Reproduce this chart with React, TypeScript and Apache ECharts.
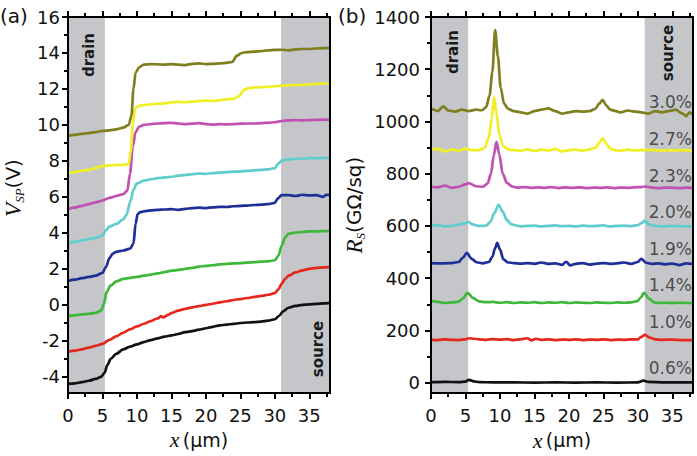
import React, { useEffect, useRef } from 'react';
import * as echarts from 'echarts';

// ---------- axes / ticks ----------
const xMin = 0;
const xMax = 38;
const vspMin = -4.9;
const vspMax = 16;
const rsMin = -40;
const rsMax = 1400;
const xMajor = [0, 5, 10, 15, 20, 25, 30, 35];
const xMinor = [2.5, 7.5, 12.5, 17.5, 22.5, 27.5, 32.5, 37.5];
const vspMajor = [-4, -2, 0, 2, 4, 6, 8, 10, 12, 14, 16];
const vspMinor = [-3, -1, 1, 3, 5, 7, 9, 11, 13, 15];
const rsMajor = [0, 200, 400, 600, 800, 1000, 1200, 1400];
const rsMinor = [100, 300, 500, 700, 900, 1100, 1300];

// contact regions (x in µm)
const drainA = [0, 5.35];
const sourceA = [30.9, 38];
const drainB = [0, 5.4];
const sourceB = [31.0, 38];

// ---------- series ----------
const strainNames = ['0.6%', '1.0%', '1.4%', '1.9%', '2.0%', '2.3%', '2.7%', '3.0%'];
const strainColors = ['#111111', '#e6271f', '#3db83a', '#1f2f98', '#5fcdcd', '#c050b1', '#f1ee25', '#7f7f1f'];
const pctLabelX = 38;
const pctLabelY = [57, 233, 375, 513, 654, 792, 933, 1074];

// (a) surface potential V_SP (V)
const vsp06 = [[0,-4.39],[1,-4.36],[2,-4.3],[3,-4.22],[4,-4.12],[4.8,-4.0],[5.3,-3.78],[5.7,-3.35],[6.2,-3.0],[7,-2.72],[8,-2.48],[9,-2.32],[10,-2.2],[11,-2.07],[12,-1.96],[13,-1.86],[14,-1.77],[15,-1.7],[16,-1.62],[17,-1.52],[18,-1.46],[19,-1.38],[20,-1.3],[21,-1.22],[22,-1.14],[23,-1.1],[24,-1.06],[25,-1.01],[26,-0.98],[27,-0.96],[28,-0.93],[29,-0.88],[30,-0.8],[30.6,-0.62],[31.2,-0.36],[32,-0.16],[33,-0.06],[34,0.0],[35,0.03],[36,0.05],[37,0.08],[38,0.11]];
const vsp10 = [[0,-2.61],[1,-2.55],[2,-2.47],[3,-2.38],[4,-2.28],[5,-2.17],[6,-1.95],[7,-1.75],[8,-1.55],[9,-1.36],[10,-1.2],[11,-1.05],[12,-0.9],[13,-0.75],[13.5,-0.62],[13.8,-0.7],[14.5,-0.56],[15,-0.46],[16,-0.32],[17,-0.22],[18,-0.14],[19,-0.07],[20,0.0],[21,0.06],[22,0.14],[23,0.2],[24,0.27],[25,0.32],[26,0.38],[27,0.44],[28,0.5],[29,0.56],[30,0.65],[30.5,0.85],[31,1.18],[31.5,1.45],[32,1.62],[33,1.8],[34,1.92],[35,2.0],[36,2.05],[37,2.08],[38,2.11]];
const vsp14 = [[0,-0.61],[1,-0.58],[2,-0.53],[3,-0.5],[4,-0.45],[4.8,-0.32],[5.2,0.05],[5.6,0.72],[6.2,1.08],[7,1.3],[8,1.44],[9,1.5],[10,1.55],[11,1.62],[12,1.68],[13,1.75],[14,1.82],[15,1.9],[16,1.94],[17,2.0],[18,2.05],[19,2.12],[20,2.17],[21,2.2],[22,2.25],[23,2.28],[24,2.3],[25,2.32],[26,2.35],[27,2.37],[28,2.4],[29,2.42],[30,2.48],[30.5,2.72],[31,3.3],[31.5,3.75],[32,3.95],[33,4.02],[34,4.05],[35,4.08],[36,4.08],[37,4.1],[38,4.11]];
const vsp19 = [[0,1.33],[1,1.4],[2,1.48],[3,1.55],[4,1.62],[5,1.78],[5.5,2.1],[6,2.6],[6.5,2.85],[7,2.95],[8,3.02],[9,3.12],[9.5,3.4],[9.8,4.5],[10.1,5.05],[10.5,5.15],[11,5.2],[12,5.25],[13,5.28],[14,5.3],[15,5.32],[16,5.28],[17,5.33],[18,5.38],[19,5.4],[20,5.38],[21,5.42],[22,5.45],[23,5.44],[24,5.48],[25,5.5],[26,5.52],[27,5.55],[28,5.57],[29,5.6],[30,5.67],[30.4,5.9],[31,6.1],[32,6.1],[33,6.05],[34,6.12],[35,6.08],[36,6.1],[37,6.0],[37.5,6.12],[38,6.1]];
const vsp20 = [[0,3.44],[1,3.5],[2,3.58],[3,3.65],[4,3.72],[5,3.85],[5.5,4.15],[6,4.35],[7,4.5],[8,4.75],[8.5,5.0],[9,5.7],[9.5,6.4],[10,6.75],[11,6.9],[12,6.98],[13,7.04],[14,7.08],[15,7.12],[16,7.18],[17,7.22],[18,7.26],[19,7.3],[20,7.28],[21,7.32],[22,7.35],[23,7.38],[24,7.4],[25,7.42],[26,7.45],[27,7.48],[28,7.5],[29,7.53],[30,7.6],[30.5,7.85],[31,8.02],[32,8.08],[33,8.12],[34,8.12],[35,8.15],[36,8.15],[37,8.17],[38,8.2]];
const vsp23 = [[0,5.33],[1,5.4],[2,5.5],[3,5.6],[4,5.7],[5,5.8],[6,5.95],[7,6.05],[8,6.15],[8.6,6.35],[9,7.3],[9.4,8.8],[9.8,9.6],[10.3,9.9],[11,10.0],[12,10.05],[13,10.08],[14,10.1],[15,10.12],[16,10.08],[17,10.04],[18,10.07],[19,10.1],[20,10.05],[21,10.02],[22,10.05],[23,10.03],[24,10.05],[25,10.07],[26,10.08],[27,10.08],[28,10.1],[29,10.12],[30,10.15],[31,10.22],[32,10.25],[33,10.27],[34,10.25],[35,10.27],[36,10.28],[37,10.3],[38,10.28]];
const vsp27 = [[0,7.33],[1,7.38],[2,7.45],[3,7.5],[4,7.6],[5,7.72],[6,7.75],[7,7.77],[8,7.78],[8.8,7.82],[9.1,8.5],[9.4,10.0],[9.7,10.9],[10.2,11.05],[11,11.1],[12,11.15],[13,11.18],[14,11.2],[15,11.25],[16,11.28],[17,11.26],[18,11.3],[19,11.32],[20,11.35],[21,11.33],[22,11.38],[23,11.42],[24,11.45],[24.8,11.6],[25.5,11.95],[26.2,12.05],[27,12.08],[28,12.1],[29,12.12],[30,12.15],[31,12.18],[32,12.2],[33,12.22],[34,12.22],[35,12.25],[36,12.28],[37,12.3],[38,12.33]];
const vsp30 = [[0,9.39],[1,9.45],[2,9.5],[3,9.55],[4,9.6],[5,9.67],[6,9.7],[7,9.75],[8,9.85],[8.8,10.0],[9.2,10.5],[9.5,12.0],[9.8,12.9],[10.3,13.2],[11,13.35],[12,13.38],[13,13.37],[14,13.35],[15,13.38],[16,13.35],[17,13.33],[18,13.4],[19,13.42],[20,13.38],[21,13.4],[22,13.42],[23,13.45],[23.8,13.5],[24.5,13.85],[25.2,14.0],[26,14.05],[27,14.08],[28,14.1],[29,14.15],[30,14.17],[31,14.18],[32,14.15],[33,14.2],[34,14.22],[35,14.22],[36,14.25],[37,14.27],[38,14.28]];

// (b) sheet resistance R_S (GΩ/sq)
const rs06 = [[0,2],[2,3],[4,2],[5,4],[5.5,11],[6.2,5],[7,2],[9,1],[12,1],[15,0],[18,1],[21,0],[24,1],[27,0],[30,1],[30.8,8],[31.5,3],[34,1],[38,1]];
const rs10 = [[0,165],[1,163],[2,166],[3,164],[4,163],[5,166],[5.5,170],[6.2,168],[7,166],[8,164],[9,167],[10,165],[11,167],[12,163],[13,166],[14,170],[14.6,162],[15.2,168],[16,164],[17,166],[18,163],[19,165],[20,164],[21,166],[22,163],[23,165],[24,164],[25,166],[26,163],[27,165],[28,164],[29,166],[30,166],[30.5,175],[31,183],[31.8,172],[32.5,166],[33.5,164],[35,165],[36.5,163],[38,163]];
const rs14 = [[0,314],[1,309],[2,305],[3,307],[4,310],[4.6,322],[5.3,344],[6.1,324],[7,311],[8,308],[9,309],[10,306],[11,308],[12,305],[13,307],[14,306],[15,308],[16,305],[17,307],[18,306],[19,308],[20,305],[21,307],[22,306],[23,305],[24,307],[25,306],[26,305],[27,307],[28,306],[29,307],[29.9,312],[30.4,325],[30.9,344],[31.6,322],[32.4,307],[33,305],[34,306],[35,305],[36,306],[37,305],[38,305]];
const rs19 = [[0,458],[1,457],[2,457],[3,458],[4,462],[4.6,478],[5.2,497],[5.9,474],[6.6,461],[7.5,457],[8.4,462],[8.9,482],[9.3,515],[9.6,535],[10.0,510],[10.5,472],[11.2,460],[12,458],[13,456],[14,458],[15,455],[16,460],[17,455],[18,457],[19,451],[19.6,463],[20.2,449],[21,455],[22,458],[23,452],[24,456],[25,458],[26,455],[27,457],[28,460],[29,455],[30,462],[30.5,474],[31.2,459],[32,455],[33,457],[34,453],[35,456],[36,450],[37,457],[38,455]];
const rs20 = [[0,600],[1,603],[2,598],[3,600],[4,605],[5,611],[5.4,616],[6,606],[7,600],[8,601],[8.6,615],[9.2,650],[9.8,681],[10.4,655],[11,622],[11.7,606],[12.5,601],[13,598],[14,600],[15,601],[16,598],[17,600],[18,602],[19,599],[20,600],[21,598],[22,601],[23,599],[24,600],[25,602],[26,598],[27,600],[28,601],[29,599],[30,603],[30.6,612],[31,620],[31.6,606],[32.5,600],[33.5,598],[35,600],[36.5,599],[38,598]];
const rs23 = [[0,750],[1,748],[2,754],[3,746],[4,750],[5,759],[5.5,764],[6.5,752],[7.5,750],[8.2,762],[8.7,800],[9.1,870],[9.5,922],[9.9,875],[10.4,800],[11.0,765],[11.8,751],[12.5,747],[13.5,749],[14.5,746],[15.5,748],[16.5,746],[17.5,749],[18.5,745],[19.5,748],[20.5,746],[21.5,748],[22.5,745],[23.5,747],[24.5,746],[25.5,748],[26.5,745],[27.5,747],[28.5,746],[29.5,748],[30.5,749],[31.2,751],[32,747],[33,745],[34,747],[35,746],[36,745],[37,747],[38,746]];
const rs27 = [[0,892],[1,895],[2,885],[3,893],[4,888],[5,896],[6,890],[7,890],[7.8,900],[8.4,940],[8.8,1010],[9.15,1094],[9.5,1030],[9.9,950],[10.5,905],[11.2,893],[12,890],[13,888],[14,893],[15,887],[16,892],[17,889],[18,895],[19,885],[20,890],[21,892],[22,888],[23,893],[23.9,900],[24.4,918],[24.9,935],[25.4,915],[26,896],[26.8,890],[27.5,888],[28.5,892],[29.5,889],[30.5,890],[31.5,891],[32.5,890],[33.5,888],[34.5,890],[35.5,889],[36.5,890],[37.5,889],[38,888]];
const rs30 = [[0,1050],[1,1040],[1.8,1058],[2.5,1042],[3.5,1038],[4.5,1045],[5.5,1040],[6.5,1045],[7.4,1043],[8.0,1055],[8.5,1100],[8.9,1190],[9.3,1350],[9.7,1250],[10.1,1130],[10.6,1068],[11.2,1048],[12,1040],[13,1035],[14,1030],[15,1040],[16,1045],[17,1050],[18,1040],[19,1030],[20,1035],[21,1040],[22,1038],[23,1040],[23.8,1048],[24.4,1068],[24.9,1083],[25.4,1062],[26,1045],[26.8,1040],[27.5,1035],[28.5,1042],[29.5,1038],[30.5,1035],[31.5,1030],[32.5,1040],[33.5,1035],[34.5,1040],[35.5,1045],[36.5,1030],[37,1020],[37.5,1035],[38,1025]];

const vspSeries = [vsp06, vsp10, vsp14, vsp19, vsp20, vsp23, vsp27, vsp30];
const rsSeries = [rs06, rs10, rs14, rs19, rs20, rs23, rs27, rs30];

// ---------- styling ----------
const FONT = 'DejaVu Sans';
const SERIF = 'Liberation Serif';
const BLACK = '#000';
const SHADE = '#c5c6c9';
const lineOn = { show: true, onZero: false, lineStyle: { color: BLACK, width: 2 } };
const lineOff = { show: false, onZero: false };

function tick(values: number[], length: number) {
  return { show: true, inside: false, length, customValues: values, lineStyle: { color: BLACK, width: 2 } };
}

function xAxesFor(gi: number) {
  const base = { type: 'value', gridIndex: gi, min: xMin, max: xMax, z: 5, splitLine: { show: false } };
  return [
    {
      ...base, position: 'bottom', axisLine: lineOn, axisTick: tick(xMajor, 6),
      axisLabel: { show: true, customValues: xMajor, margin: 13, fontSize: 18, fontFamily: FONT, color: '#111', formatter: (v: number) => String(v) },
      name: '{i|x} {n|(μm)}', nameLocation: 'middle', nameGap: 33,
      nameTextStyle: {
        rich: {
          i: { fontFamily: SERIF, fontStyle: 'italic', fontSize: 22, color: '#111' },
          n: { fontFamily: FONT, fontSize: 19, color: '#111' },
        },
      },
    },
    { ...base, position: 'bottom', axisLine: lineOff, axisTick: tick(xMinor, 4), axisLabel: { show: false } },
    { ...base, position: 'top', axisLine: lineOn, axisTick: tick(xMajor, 6), axisLabel: { show: false } },
    { ...base, position: 'top', axisLine: lineOff, axisTick: tick(xMinor, 4), axisLabel: { show: false } },
  ];
}

function yAxesFor(gi: number, min: number, max: number, major: number[], minor: number[], name: string, rich: any, gap: number, margin: number, pad: number[]) {
  const base = { type: 'value', gridIndex: gi, min, max, z: 5, splitLine: { show: false } };
  return [
    {
      ...base, position: 'left', axisLine: lineOn, axisTick: tick(major, 6),
      axisLabel: { show: true, customValues: major, margin, fontSize: 18, fontFamily: FONT, color: '#111', formatter: (v: number) => String(v) },
      name, nameLocation: 'middle', nameGap: gap, nameRotate: 90, nameTextStyle: { rich, padding: pad },
    },
    { ...base, position: 'left', axisLine: lineOff, axisTick: tick(minor, 4), axisLabel: { show: false } },
    { ...base, position: 'right', axisLine: lineOn, axisTick: { show: false }, axisLabel: { show: false } },
  ];
}

const richName = {
  i: { fontFamily: SERIF, fontStyle: 'italic', fontSize: 23, color: '#111', lineHeight: 26 },
  s: { fontFamily: SERIF, fontStyle: 'italic', fontSize: 13, color: '#111', verticalAlign: 'bottom', lineHeight: 26 },
  n: { fontFamily: FONT, fontSize: 20, color: '#111', lineHeight: 26 },
};

function shade(drain: number[], source: number[]) {
  return {
    silent: true,
    itemStyle: { color: SHADE, opacity: 1 },
    data: [
      [{ xAxis: drain[0] }, { xAxis: drain[1] }],
      [{ xAxis: source[0] }, { xAxis: source[1] }],
    ],
  };
}

function lineSeries(data: number[][][], xi: number, yi: number, drain: number[], source: number[]) {
  return data.map((d, k) => ({
    type: 'line',
    name: strainNames[k],
    xAxisIndex: xi,
    yAxisIndex: yi,
    data: d,
    showSymbol: false,
    smooth: 0.3,
    smoothMonotone: 'x',
    lineStyle: { color: strainColors[k], width: 2.7 },
    itemStyle: { color: strainColors[k] },
    z: 3,
    ...(k === 0 ? { markArea: shade(drain, source) } : {}),
  }));
}

function rotatedLabel(text: string, x: number, y: number) {
  return {
    type: 'text', x, y, rotation: Math.PI / 2, z: 10,
    style: { text, fontFamily: FONT, fontWeight: 'bold', fontSize: 15, fill: '#1a1a1a', align: 'center', verticalAlign: 'middle' },
  };
}

const option: any = {
  animation: false,
  backgroundColor: '#fff',
  grid: [
    { left: 68, top: 17, width: 262, height: 376 },
    { left: 431, top: 17, width: 262, height: 377 },
  ],
  xAxis: [...xAxesFor(0), ...xAxesFor(1)],
  yAxis: [
    ...yAxesFor(0, vspMin, vspMax, vspMajor, vspMinor, '{i|V}{s|SP}{n|(V)}', richName, 42, 8, [0, 0, 0, 34]),
    ...yAxesFor(1, rsMin, rsMax, rsMajor, rsMinor, '{i|R}{s|S}{n|(GΩ/sq)}', richName, 64, 11, [0, 0, 0, 0]),
  ],
  series: [
    ...lineSeries(vspSeries, 0, 0, drainA, sourceA),
    ...lineSeries(rsSeries, 4, 3, drainB, sourceB),
    {
      type: 'scatter',
      xAxisIndex: 4,
      yAxisIndex: 3,
      symbolSize: 0,
      silent: true,
      z: 6,
      data: pctLabelY.map((y, k) => ({ value: [pctLabelX, y], name: strainNames[k] })),
      label: {
        show: true, position: 'left', distance: 1,
        formatter: (p: any) => p.name,
        fontFamily: FONT, fontSize: 17, color: '#2b2b2b',
      },
    },
  ],
  graphic: [
    { type: 'text', left: 0, top: 6, style: { text: '(a)', fontFamily: FONT, fontSize: 20, fill: '#111' } },
    { type: 'text', left: 338, top: 6, style: { text: '(b)', fontFamily: FONT, fontSize: 20, fill: '#111' } },
    rotatedLabel('drain', 89, 55),
    rotatedLabel('source', 318, 349),
    rotatedLabel('drain', 453, 52),
    rotatedLabel('source', 668, 53),
  ],
};

export default function App() {
  const ref = useRef<HTMLDivElement>(null);
  useEffect(() => {
    const chart = echarts.init(ref.current as HTMLDivElement, null, { renderer: 'svg' });
    chart.setOption(option);
    return () => chart.dispose();
  }, []);
  return <div ref={ref} style={{ position: 'absolute', left: 0, top: 0, width: 697, height: 456 }} />;
}
